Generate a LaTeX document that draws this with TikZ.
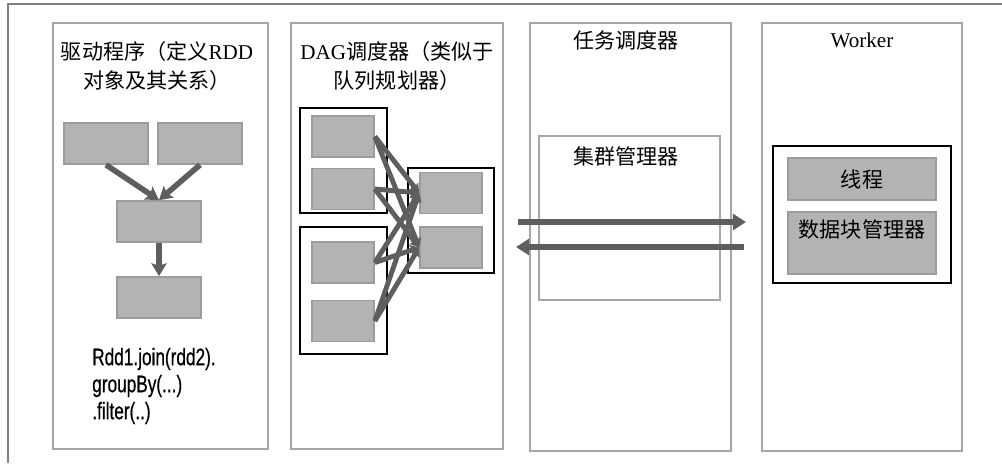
\documentclass[tikz,border=0pt]{standalone}
\usepackage{fontspec}
\setmainfont{Liberation Serif}
\newfontfamily\cjk{Noto Sans CJK SC}
\newfontfamily\codefont[FakeStretch=0.72,FakeBold=0.6]{Liberation Sans}
\usetikzlibrary{arrows.meta}
\usepackage{xcolor}
\definecolor{frame}{HTML}{7F7F7F}
\definecolor{panel}{HTML}{A6A6A6}
\definecolor{rdd}{HTML}{B3B3B3}
\definecolor{rddedge}{HTML}{9C9C9C}
\definecolor{flow}{HTML}{5E5E5E}
\tikzset{panel/.style={draw=panel,line width=1.4pt,minimum height=10.7cm}}
\tikzset{rdd/.style={draw=rddedge,fill=rdd,line width=1.2pt,minimum height=1.025cm}}
\tikzset{grp/.style={draw=black,line width=1.3pt}}
\tikzset{title/.style={font=\fontsize{15}{20}\selectfont,align=center,inner sep=0pt}}
\tikzset{flow/.style={draw=flow,line width=4pt,-{Stealth[length=0.32cm,width=0.38cm,inset=0.06cm]}}}
\tikzset{link/.style={draw=flow,line width=3.5pt,-{Stealth[length=0.22cm,width=0.28cm,inset=0.04cm]}}}
\tikzset{wire/.style={draw=flow,line width=3.8pt,-{Triangle[length=0.33cm,width=0.4cm]}}}

\begin{document}
\begin{tikzpicture}[x=0.025cm,y=-0.025cm]
    \useasboundingbox (0,0) rectangle (1002,463);
    \draw[frame,line width=1.1pt] (8,463) -- (8,4) -- (1002,4);

    % panels
    \node[panel,minimum width=5.375cm,minimum height=10.65cm] (driver) at (160.5,236) {};
    \node[panel,minimum width=5.3cm,minimum height=10.65cm] (dag) at (397,236) {};
    \node[panel,minimum width=5.025cm] (task) at (630.5,237) {};
    \node[panel,minimum width=5cm] (worker) at (862,237) {};

    \node[title] (t1) at (157,66) {{\cjk 驱动程序（定义}RDD\\{\cjk 对象及其关系）}};
    \node[title] (t2) at (397,66) {DAG{\cjk 调度器（类似于}\\{\cjk 队列规划器）}};
    \node[title] (t3) at (626,40) {\cjk 任务调度器};
    \node[title] (t4) at (862,40) {Worker};

    % driver
    \node[rdd,minimum width=2.1cm] (r1) at (106,143.5) {};
    \node[rdd,minimum width=2.1cm] (r2) at (200,143.5) {};
    \node[rdd,minimum width=2.1cm] (r3) at (159,221.5) {};
    \node[rdd,minimum width=2.1cm] (r4) at (159,297.5) {};
    \node[anchor=west,align=left,inner sep=0pt,font=\codefont\fontsize{17}{19.2}\selectfont] (code) at (92,386)
        {Rdd1.join(rdd2).\\groupBy(...)\\.filter(..)};

    % dag scheduler
    \node[grp,minimum width=2.175cm,minimum height=2.625cm] (g1) at (343.5,160.5) {};
    \node[grp,minimum width=2.175cm,minimum height=3.175cm] (g2) at (343.5,290.5) {};
    \node[grp,minimum width=2.15cm,minimum height=2.625cm] (g3) at (451,220.5) {};
    \node[rdd,minimum width=1.55cm] (s1) at (343,136.5) {};
    \node[rdd,minimum width=1.55cm] (s2) at (343,189) {};
    \node[rdd,minimum width=1.55cm] (s3) at (343,262.5) {};
    \node[rdd,minimum width=1.55cm] (s4) at (343,321) {};
    \node[rdd,minimum width=1.55cm] (d1) at (451,193) {};
    \node[rdd,minimum width=1.55cm] (d2) at (451,247.5) {};

    % task scheduler
    \node[draw=panel,line width=1.1pt,minimum width=4.525cm,minimum height=4.1cm] (cm) at (629.5,218) {};
    \node[title] (cmt) at (626,156) {\cjk 集群管理器};
    \coordinate (a1) at (518,222);
    \coordinate (a2) at (746,222);
    \coordinate (b1) at (744,247);
    \coordinate (b2) at (516,247);

    % worker
    \node[grp,minimum width=4.45cm,minimum height=3.425cm] (wk) at (862,214.5) {};
    \node[rdd,minimum width=3.7cm,minimum height=1.05cm,font=\cjk\fontsize{15}{20}\selectfont] (thr) at (862,179) {线程};
    \node[rdd,minimum width=3.7cm,minimum height=1.55cm] (bm) at (862,243) {};
    \node[title] (bmt) at (862,229) {\cjk 数据块管理器};

    \draw[flow] (r1.south) to (r3.north);
    \draw[flow] (r2.south) to (r3.north);
    \draw[flow] (r3) to (r4);
    \foreach \s in {s1,s2,s3,s4} {
        \draw[link] (\s.east) to (d1.west);
        \draw[link] (\s.east) to (d2.west);
    }
    \draw[wire] (a1) to (a2);
    \draw[wire] (b1) to (b2);
\end{tikzpicture}
\end{document}
